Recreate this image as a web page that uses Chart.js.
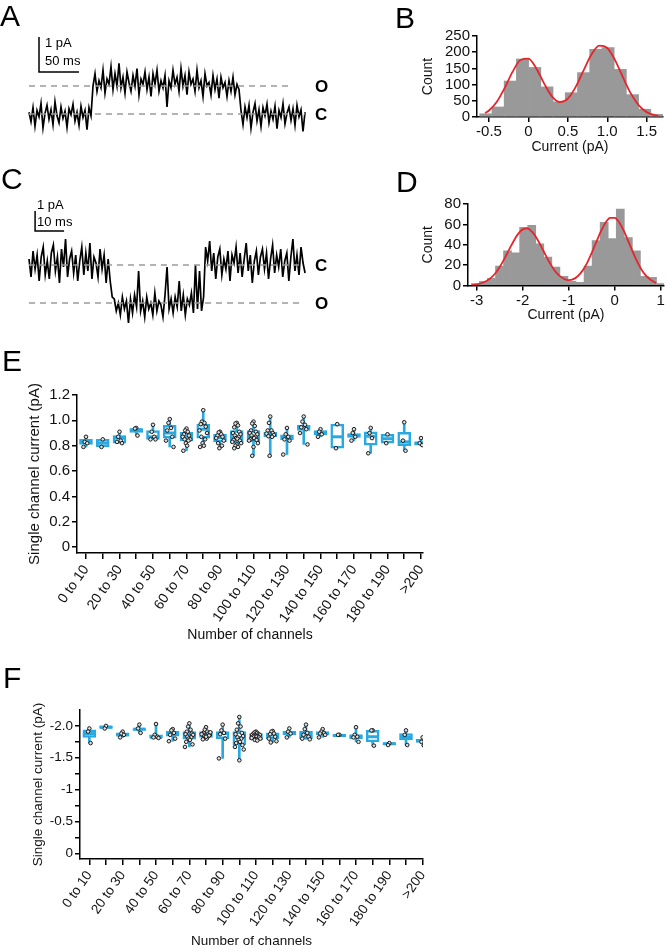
<!DOCTYPE html>
<html>
<head>
<meta charset="utf-8">
<script src="https://cdn.jsdelivr.net/npm/chart.js@4.4.1/dist/chart.umd.min.js"></script>
<style>
body { margin: 0; background: #fff; font-family: "Liberation Sans", Arial, sans-serif; }
#fig { position: relative; width: 666px; height: 952px; overflow: hidden; }
canvas { position: absolute; }
.lbl { position: absolute; white-space: nowrap; color: #000; }
.panel { font-size: 30px; line-height: 30px; }
.sb { font-size: 13px; line-height: 13px; }
.oc { font-size: 17px; line-height: 17px; font-weight: bold; }
</style>
</head>
<body>
<div id="fig">
  <canvas id="traceA" width="340" height="110" style="left:0;top:30px"></canvas>
  <canvas id="histB" width="266" height="135" style="left:400px;top:25px"></canvas>
  <canvas id="traceC" width="340" height="140" style="left:0;top:190px"></canvas>
  <canvas id="histD" width="266" height="140" style="left:400px;top:190px"></canvas>
  <canvas id="boxE" width="440" height="290" style="left:0;top:360px"></canvas>
  <canvas id="boxF" width="440" height="262" style="left:0;top:690px"></canvas>

  <div class="lbl panel" style="left:0;top:1px">A</div>
  <div class="lbl panel" style="left:395px;top:3px">B</div>
  <div class="lbl panel" style="left:1px;top:164px">C</div>
  <div class="lbl panel" style="left:396px;top:167px">D</div>
  <div class="lbl panel" style="left:2px;top:346px">E</div>
  <div class="lbl panel" style="left:3px;top:663px">F</div>

  <div class="lbl sb" style="left:45px;top:36px">1 pA</div>
  <div class="lbl sb" style="left:45px;top:54px">50 ms</div>
  <div class="lbl oc" style="left:315px;top:78px">O</div>
  <div class="lbl oc" style="left:315px;top:106px">C</div>

  <div class="lbl sb" style="left:37px;top:198px">1 pA</div>
  <div class="lbl sb" style="left:37px;top:215px">10 ms</div>
  <div class="lbl oc" style="left:315px;top:257px">C</div>
  <div class="lbl oc" style="left:315px;top:295px">O</div>
</div>
<script>
Chart.defaults.font.family = '"Liberation Sans", Arial, Helvetica, sans-serif';
Chart.defaults.color = '#111';
Chart.defaults.animation = false;
Chart.defaults.responsive = false;
Chart.defaults.events = [];
Chart.defaults.plugins.legend.display = false;
Chart.defaults.plugins.tooltip.enabled = false;

/* ---- data ---- */

// A: single channel recording, sampled every 2.5 ms (pA)
const dtA = 2.5;
const traceA = [
  0.05,-0.22,0.18,-0.35,0.1,-0.08,0.3,-0.4,0.02,0.25,-0.15,0.12,-0.3,0.35,-0.05,-0.25,0.2,-0.12,0.08,-0.38,0.15,-0.02,0.28,-0.2,0.05,-0.32,0.22,-0.1,0.1,-0.45,0.18,-0.05,
  0.8,1.15,0.65,0.95,0.75,1.25,0.6,1.0,0.85,1.35,0.7,1.15,0.8,1.45,0.75,1.05,0.6,1.2,0.9,0.65,1.1,0.8,1.3,0.55,1.0,0.85,1.2,0.7,1.05,0.5,1.15,0.85,1.25,0.65,0.95,0.75,1.1,
  0.2,
  0.95,0.75,1.25,0.85,1.05,0.65,1.3,0.8,1.1,0.55,1.2,0.85,1.0,0.65,1.25,0.75,0.95,0.5,1.15,0.8,0.9,0.55,1.1,0.7,1.0,0.45,1.05,0.75,0.9,0.5,0.95,0.65,1.05,0.55,0.85,0.7,
  0.1,-0.3,0.2,-0.1,0.25,-0.4,0.05,0.3,-0.2,0.12,-0.35,0.18,-0.05,0.28,-0.25,0.08,-0.15,0.22,-0.42,0.1,-0.1,0.3,-0.28,0.02,0.2,-0.18,0.15,-0.32,0.25,-0.08,0.12,-0.5,0.05
];
const levelsA = [0, 0.8];          // closed, open
const levelEndA = [345, 330];
const scaleBarA = [[12.5, 2.2], [12.5, 1.2], [62.5, 1.2]];   // 1 pA, 50 ms

// B: amplitude histogram
const binsB = [-0.54,-0.385,-0.23,-0.075,0.08,0.235,0.39,0.545,0.70,0.855,1.01,1.165,1.32,1.475,1.63];
const countsB = [10,31,111,179,153,93,47,75,137,209,214,147,69,24,8];
const fitXB = [-0.55,-0.5,-0.4,-0.3,-0.2,-0.1,0,0.1,0.2,0.3,0.4,0.5,0.6,0.7,0.8,0.9,1.0,1.1,1.2,1.3,1.4,1.5,1.6,1.65];
const fitYB = [12,20,47,90,140,176,180,150,103,63,46,57,93,144,193,220,213,175,122,72,36,15,6,3];
const ticksB = [-0.5, 0, 0.5, 1, 1.5];
const tickLabelsB = ['-0.5', '0', '0.5', '1.0', '1.5'];

// C: single channel recording, sampled every 0.7 ms (pA)
const dtC = 0.7;
const traceC = [
  0.3,-0.6,0.7,-0.2,0.5,-0.8,0.4,0.9,-0.5,0.2,-0.7,0.6,1.0,-0.3,0.4,-0.9,0.8,-0.1,1.3,-0.6,0.3,0.7,-0.4,0.5,-0.8,0.2,0.9,-0.5,0.6,-0.3,1.1,-0.7,0.4,0.1,-0.6,0.8,-0.2,0.5,-0.9,0.3,
  -0.8,-1.6,
  -1.7,-2.3,-1.9,-2.5,-1.6,-2.2,-1.8,-2.9,-1.7,-2.4,-1.5,-2.1,-0.3,-2.3,-1.8,-2.6,-1.6,-2.2,-1.9,-2.5,-1.4,-2.3,-1.8,-2.0,-2.6,-1.5,-0.1,-2.2,-1.7,-2.4,-1.6,-2.1,-0.8,-2.3,-1.5,-2.5,-1.7,-2.0,-1.4,-2.4,0.0,-2.2,-0.3,-2.3,-1.6,
  0.9,0.2,1.2,-0.3,0.6,-0.7,0.4,0.8,-0.5,0.3,-0.2,0.7,-0.8,0.5,0.1,0.9,-0.4,0.6,-0.6,0.3,1.1,-0.3,0.5,-0.9,0.2,0.7,-0.5,0.4,0.8,-0.2,0.6,-0.7,0.3,1.0,-0.4,0.5,-0.1,0.8,-0.6,0.2,0.6,-0.8,0.4,1.3,-0.3,0.5,-0.5,0.9,0.1,-0.4
];
const levelsC = [0, -1.9];         // closed, open
const levelEndC = [94, 94];
const scaleBarC = [[2.1, 2.7], [2.1, 1.7], [12.1, 1.7]];    // 1 pA, 10 ms

// D: amplitude histogram
const binsD = [-3.03,-2.855,-2.68,-2.505,-2.33,-2.155,-1.98,-1.805,-1.63,-1.455,-1.28,-1.105,-0.93,-0.755,-0.58,-0.405,-0.23,-0.055,0.12,0.295,0.47,0.645,0.82,0.995];
const countsD = [2,4,7,19,34,32,57,59,41,28,18,9,4,3,19,44,62,46,75,47,34,9,8,2];
const fitXD = [-3.1,-3.0,-2.9,-2.8,-2.7,-2.6,-2.5,-2.4,-2.3,-2.2,-2.1,-2.0,-1.9,-1.8,-1.7,-1.6,-1.5,-1.4,-1.3,-1.2,-1.1,-1.0,-0.9,-0.8,-0.7,-0.6,-0.5,-0.4,-0.3,-0.2,-0.1,0,0.1,0.2,0.3,0.4,0.5,0.6,0.7,0.8,0.9];
const fitYD = [0.5,1.1,2.2,4.1,7.2,11.8,18.2,26.1,34.9,43.5,50.7,55.1,56,52.8,46.6,38.4,29.5,21.2,14.2,9.4,6.4,5.3,6.2,9.3,14.6,22.2,32.0,42.8,53.3,61.7,66.4,66.4,61.7,53.3,42.8,32.0,22.2,14.3,8.6,4.8,2.5];
const ticksD = [-3, -2, -1, 0, 1];
const tickLabelsD = ['-3', '-2', '-1', '0', '1'];

// E / F: number of channels groups
const channelGroups = ['0 to 10','10 to 20','20 to 30','30 to 40','40 to 50','50 to 60','60 to 70','70 to 80','80 to 90','90 to 100',
  '100 to 110','110 to 120','120 to 130','130 to 140','140 to 150','150 to 160','160 to 170','170 to 180','180 to 190','190 to 200','>200'];

// E: single channel current (pA), outward
const minE = [0.79,0.79,0.82,0.88,0.85,0.79,0.76,0.79,0.78,0.78,0.72,0.72,0.73,0.81,0.87,0.78,0.84,0.74,0.82,0.76,0.805];
const q1E  = [0.81,0.79,0.82,0.905,0.85,0.86,0.84,0.86,0.83,0.82,0.83,0.87,0.845,0.92,0.885,0.78,0.865,0.805,0.82,0.80,0.805];
const medE = [0.83,0.82,0.86,0.925,0.87,0.90,0.87,0.93,0.865,0.86,0.87,0.89,0.865,0.945,0.90,0.87,0.88,0.875,0.855,0.83,0.82];
const q3E  = [0.85,0.85,0.88,0.935,0.92,0.96,0.905,0.97,0.89,0.92,0.92,0.905,0.885,0.96,0.92,0.97,0.895,0.91,0.89,0.905,0.83];
const maxE = [0.87,0.85,0.91,0.94,0.965,1.01,0.935,1.08,0.91,0.98,0.99,1.03,0.94,1.03,0.93,0.97,0.93,0.94,0.89,0.985,0.86];
const pointsE = [
  [0.87,0.83,0.82,0.79],
  [0.85,0.79],
  [0.91,0.87,0.84,0.83,0.82],
  [0.94,0.935,0.88],
  [0.965,0.91,0.87,0.85,0.85],
  [1.01,0.98,0.94,0.92,0.87,0.84,0.79],
  [0.935,0.92,0.91,0.89,0.88,0.87,0.85,0.85,0.84,0.82,0.80,0.76],
  [1.08,0.99,0.98,0.97,0.95,0.92,0.90,0.87,0.85,0.82,0.80,0.79],
  [0.91,0.905,0.89,0.88,0.87,0.86,0.84,0.82,0.80,0.78],
  [0.98,0.975,0.96,0.945,0.91,0.90,0.89,0.88,0.87,0.86,0.855,0.845,0.84,0.83,0.82,0.81,0.80,0.79,0.78],
  [0.99,0.975,0.955,0.92,0.91,0.90,0.89,0.88,0.87,0.86,0.86,0.85,0.845,0.84,0.82,0.79,0.72],
  [1.03,0.98,0.92,0.92,0.90,0.895,0.885,0.875,0.87,0.72],
  [0.94,0.89,0.87,0.85,0.84,0.73],
  [1.03,0.99,0.965,0.945,0.93,0.90,0.81],
  [0.93,0.91,0.89,0.87],
  [0.97,0.78],
  [0.93,0.90,0.87,0.84],
  [0.94,0.90,0.86,0.74],
  [0.89,0.82],
  [0.985,0.84,0.76],
  [0.86,0.82,0.805]
];
const ticksE = [0, 0.2, 0.4, 0.6, 0.8, 1.0, 1.2];

// F: single channel current (pA), inward
const minF = [-1.73,-1.96,-1.82,-1.89,-1.81,-1.76,-1.67,-1.79,-1.49,-1.46,-1.77,-1.74,-1.82,-1.79,-1.82,-1.83,-1.75,-1.69,-1.70,-1.70,-1.69];
const q1F  = [-1.82,-1.96,-1.84,-1.93,-1.81,-1.84,-1.79,-1.82,-1.80,-1.70,-1.78,-1.80,-1.86,-1.80,-1.86,-1.83,-1.80,-1.75,-1.70,-1.78,-1.74];
const medF = [-1.88,-1.98,-1.86,-1.95,-1.82,-1.88,-1.85,-1.86,-1.88,-1.82,-1.84,-1.86,-1.89,-1.86,-1.88,-1.85,-1.84,-1.83,-1.72,-1.82,-1.77];
const q3F  = [-1.94,-2.00,-1.89,-1.96,-1.86,-1.92,-1.91,-1.91,-1.91,-1.91,-1.88,-1.89,-1.92,-1.92,-1.91,-1.87,-1.86,-1.93,-1.74,-1.88,-1.79];
const maxF = [-1.96,-2.00,-1.91,-2.02,-2.03,-1.95,-2.04,-1.98,-2.02,-2.14,-1.91,-1.92,-1.96,-2.02,-1.95,-1.87,-1.98,-1.93,-1.74,-1.93,-1.82];
const pointsF = [
  [-1.96,-1.91,-1.73],
  [-2.00,-1.96],
  [-1.91,-1.88,-1.86,-1.82],
  [-2.02,-1.96,-1.89],
  [-2.03,-1.86,-1.83,-1.82,-1.81],
  [-1.95,-1.93,-1.89,-1.86,-1.80,-1.76],
  [-2.04,-1.99,-1.94,-1.91,-1.88,-1.87,-1.86,-1.83,-1.82,-1.80,-1.78,-1.75,-1.71,-1.67],
  [-1.98,-1.94,-1.91,-1.89,-1.88,-1.87,-1.86,-1.84,-1.83,-1.82,-1.80,-1.79,-1.85,-1.87,-1.90,-1.83],
  [-2.02,-1.93,-1.89,-1.87,-1.80,-1.49],
  [-2.14,-2.04,-1.99,-1.94,-1.89,-1.87,-1.84,-1.82,-1.80,-1.78,-1.75,-1.73,-1.70,-1.67,-1.63,-1.46],
  [-1.91,-1.90,-1.89,-1.88,-1.87,-1.86,-1.86,-1.85,-1.84,-1.84,-1.83,-1.83,-1.82,-1.81,-1.80,-1.79,-1.78,-1.77],
  [-1.92,-1.91,-1.88,-1.87,-1.83,-1.80,-1.76,-1.74],
  [-1.96,-1.91,-1.88,-1.82],
  [-2.02,-1.95,-1.89,-1.86,-1.83,-1.80,-1.79],
  [-1.95,-1.91,-1.89,-1.88,-1.86,-1.82],
  [-1.86,-1.86],
  [-1.98,-1.86,-1.83,-1.82,-1.75],
  [-1.93,-1.93,-1.69],
  [-1.73,-1.70],
  [-1.93,-1.86,-1.70],
  [-1.82,-1.75,-1.69]
];
const ticksF = [-2, -1.75, -1.5, -1.25, -1, -0.75, -0.5, -0.25, 0];
const tickLabelsF = ['-2.0', '', '-1.5', '', '-1', '', '-0.5', '', '0'];

/* ---- helpers ---- */
const BLUE = '#29a9e1';
const jitter = [0, -1, 1, -2, 2, -3, 3, -1.5, 1.5, -0.5, 0.5, -2.5, 2.5, -3.5, 3.5];

function axisLook(tickLen) {
  return {
    grid: { drawOnChartArea: false, drawTicks: true, tickLength: tickLen, color: '#000', lineWidth: 1.5, offset: false },
    border: { display: true, color: '#000', width: 1.5 }
  };
}

function traceChart(id, values, dt, levels, levelEnd, bar, xr, yr) {
  const datasets = levels.map((l, i) => ({
    data: [{ x: 0, y: l }, { x: levelEnd[i], y: l }],
    borderColor: '#9a9a9a', borderWidth: 1.5, borderDash: [6, 5], pointRadius: 0
  }));
  datasets.push({ data: values.map((v, i) => ({ x: i * dt, y: v })), borderColor: '#000', borderWidth: 1.7, pointRadius: 0 });
  datasets.push({ data: bar.map(p => ({ x: p[0], y: p[1] })), borderColor: '#000', borderWidth: 1.5, pointRadius: 0 });
  new Chart(document.getElementById(id), {
    type: 'line',
    data: { datasets },
    options: {
      layout: { padding: 0 },
      scales: {
        x: { type: 'linear', display: false, min: xr[0], max: xr[1] },
        y: { type: 'linear', display: false, min: yr[0], max: yr[1] }
      }
    }
  });
}

function histChart(id, bins, counts, fitX, fitY, o) {
  new Chart(document.getElementById(id), {
    type: 'bar',
    data: {
      datasets: [
        { type: 'line', data: fitX.map((x, i) => ({ x, y: fitY[i] })), borderColor: '#e8242b', borderWidth: 1.8,
          pointRadius: 0, cubicInterpolationMode: 'monotone', order: 0 },
        { data: bins.map((x, i) => ({ x, y: counts[i] })), backgroundColor: '#999999', barPercentage: 1,
          categoryPercentage: 1, order: 1 }
      ]
    },
    options: {
      layout: { padding: { top: o.top, right: o.right, left: 0, bottom: 0 } },
      scales: {
        x: Object.assign(axisLook(5), {
          type: 'linear', min: o.xMin, max: o.xMax, offset: false,
          afterBuildTicks: s => { s.ticks = o.xTicks.map(v => ({ value: v })); },
          afterFit: s => { s.height = o.xh; },
          ticks: { font: { size: 15 }, padding: 1, maxRotation: 0, autoSkip: false, callback: (v, i) => o.xLabels[i] },
          title: { display: true, text: 'Current (pA)', font: { size: 14 }, color: '#111', padding: { top: 0, bottom: o.xtb } }
        }),
        y: Object.assign(axisLook(5), {
          min: 0, max: o.yMax,
          afterBuildTicks: s => { s.ticks = o.yTicks.map(v => ({ value: v })); },
          afterFit: s => { s.width = o.yw; },
          ticks: { font: { size: 15 }, padding: 2, autoSkip: false },
          title: { display: true, text: 'Count', font: { size: 14 }, color: '#111', padding: { top: o.ytp, bottom: 0 } }
        })
      }
    }
  });
}

function boxChart(id, d, o) {
  const pts = [];
  d.pts.forEach((arr, i) => arr.forEach((v, j) => pts.push({ x: i + jitter[j % jitter.length] * 0.075, y: v })));
  new Chart(document.getElementById(id), {
    type: 'bar',
    data: {
      datasets: [
        { type: 'scatter', data: pts, pointRadius: 1.8, borderWidth: 1, borderColor: '#1a1a1a',
          backgroundColor: '#e0e0e0', order: 0 },
        { type: 'scatter', data: d.med.map((v, i) => ({ x: i, y: v })), pointStyle: 'line', pointRadius: 6,
          borderWidth: 3, borderColor: BLUE, order: 1 },
        { data: d.q1.map((v, i) => ({ x: i, y: [v, d.q3[i]] })), backgroundColor: '#fff', borderColor: BLUE,
          borderWidth: 2.5, borderSkipped: false, barThickness: 13, grouped: false, order: 2 },
        { data: d.min.map((v, i) => ({ x: i, y: [v, d.max[i]] })), backgroundColor: BLUE, borderWidth: 0,
          barThickness: 2, grouped: false, order: 3 }
      ]
    },
    options: {
      layout: { padding: { top: o.top, right: o.right, left: 0, bottom: 0 } },
      scales: {
        x: Object.assign(axisLook(6), {
          type: 'linear', min: o.xMin, max: o.xMax, offset: false,
          afterBuildTicks: s => { s.ticks = channelGroups.map((c, i) => ({ value: i })); },
          afterFit: s => { s.height = o.xh; },
          ticks: { font: { size: o.xf }, padding: 3, autoSkip: false, minRotation: 55, maxRotation: 55,
            callback: (v, i) => (i % 2 === 0 ? channelGroups[i] : '') },
          title: { display: true, text: 'Number of channels', font: { size: o.tf }, color: '#111',
            padding: { top: 0, bottom: o.xtb } }
        }),
        y: Object.assign(axisLook(5), {
          min: o.yMin, max: o.yMax, reverse: o.reverse,
          afterBuildTicks: s => { s.ticks = o.yTicks.map(v => ({ value: v })); },
          afterFit: s => { s.width = o.yw; },
          ticks: { font: { size: o.yf }, padding: 2, autoSkip: false, callback: (v, i) => o.yLabels(v, i) },
          title: { display: true, text: 'Single channel current (pA)', font: { size: o.ytf }, color: '#111',
            padding: { top: o.ytp, bottom: 0 } }
        })
      }
    }
  });
}

/* ---- charts ---- */
traceChart('traceA', traceA, dtA, levelsA, levelEndA, scaleBarA, [-36.25, 388.75], [-0.743, 2.4]);
traceChart('traceC', traceC, dtC, levelsC, levelEndC, scaleBarC, [-10, 107.24], [-3.25, 3.75]);

histChart('histB', binsB, countsB, fitXB, fitYB, {
  top: 11, right: 3, xh: 43, yw: 77, xMin: -0.652, xMax: 1.707, yMax: 250,
  xTicks: ticksB, xLabels: tickLabelsB, yTicks: [0, 50, 100, 150, 200, 250], xtb: 4.8, ytp: 19.6
});
histChart('histD', binsD, countsD, fitXD, fitYD, {
  top: 14, right: 2, xh: 44.5, yw: 68, xMin: -3.19, xMax: 1.07, yMax: 80,
  xTicks: ticksD, xLabels: tickLabelsD, yTicks: [0, 20, 40, 60, 80], xtb: 6.6, ytp: 19.6
});

boxChart('boxE', { min: minE, q1: q1E, med: medE, q3: q3E, max: maxE, pts: pointsE }, {
  top: 35, right: 17, xh: 97, yw: 77, xMin: -0.537, xMax: 20.12, yMin: -0.047, yMax: 1.2, reverse: false,
  yTicks: ticksE, yLabels: v => (v === 0 ? '0' : v.toFixed(1)), xf: 14, tf: 14, yf: 15, ytf: 15, xtb: 6.6, ytp: 25.5
});
boxChart('boxF', { min: minF, q1: q1F, med: medF, q3: q3F, max: maxF, pts: pointsF }, {
  top: 20, right: 17, xh: 93, yw: 80, xMin: -0.56, xMax: 20.02, yMin: -2.25, yMax: 0.09, reverse: true,
  yTicks: ticksF, yLabels: (v, i) => tickLabelsF[i], xf: 13.5, tf: 13.5, yf: 13.5, ytf: 13.5, xtb: 2.6, ytp: 30.4
});
</script>
</body>
</html>
